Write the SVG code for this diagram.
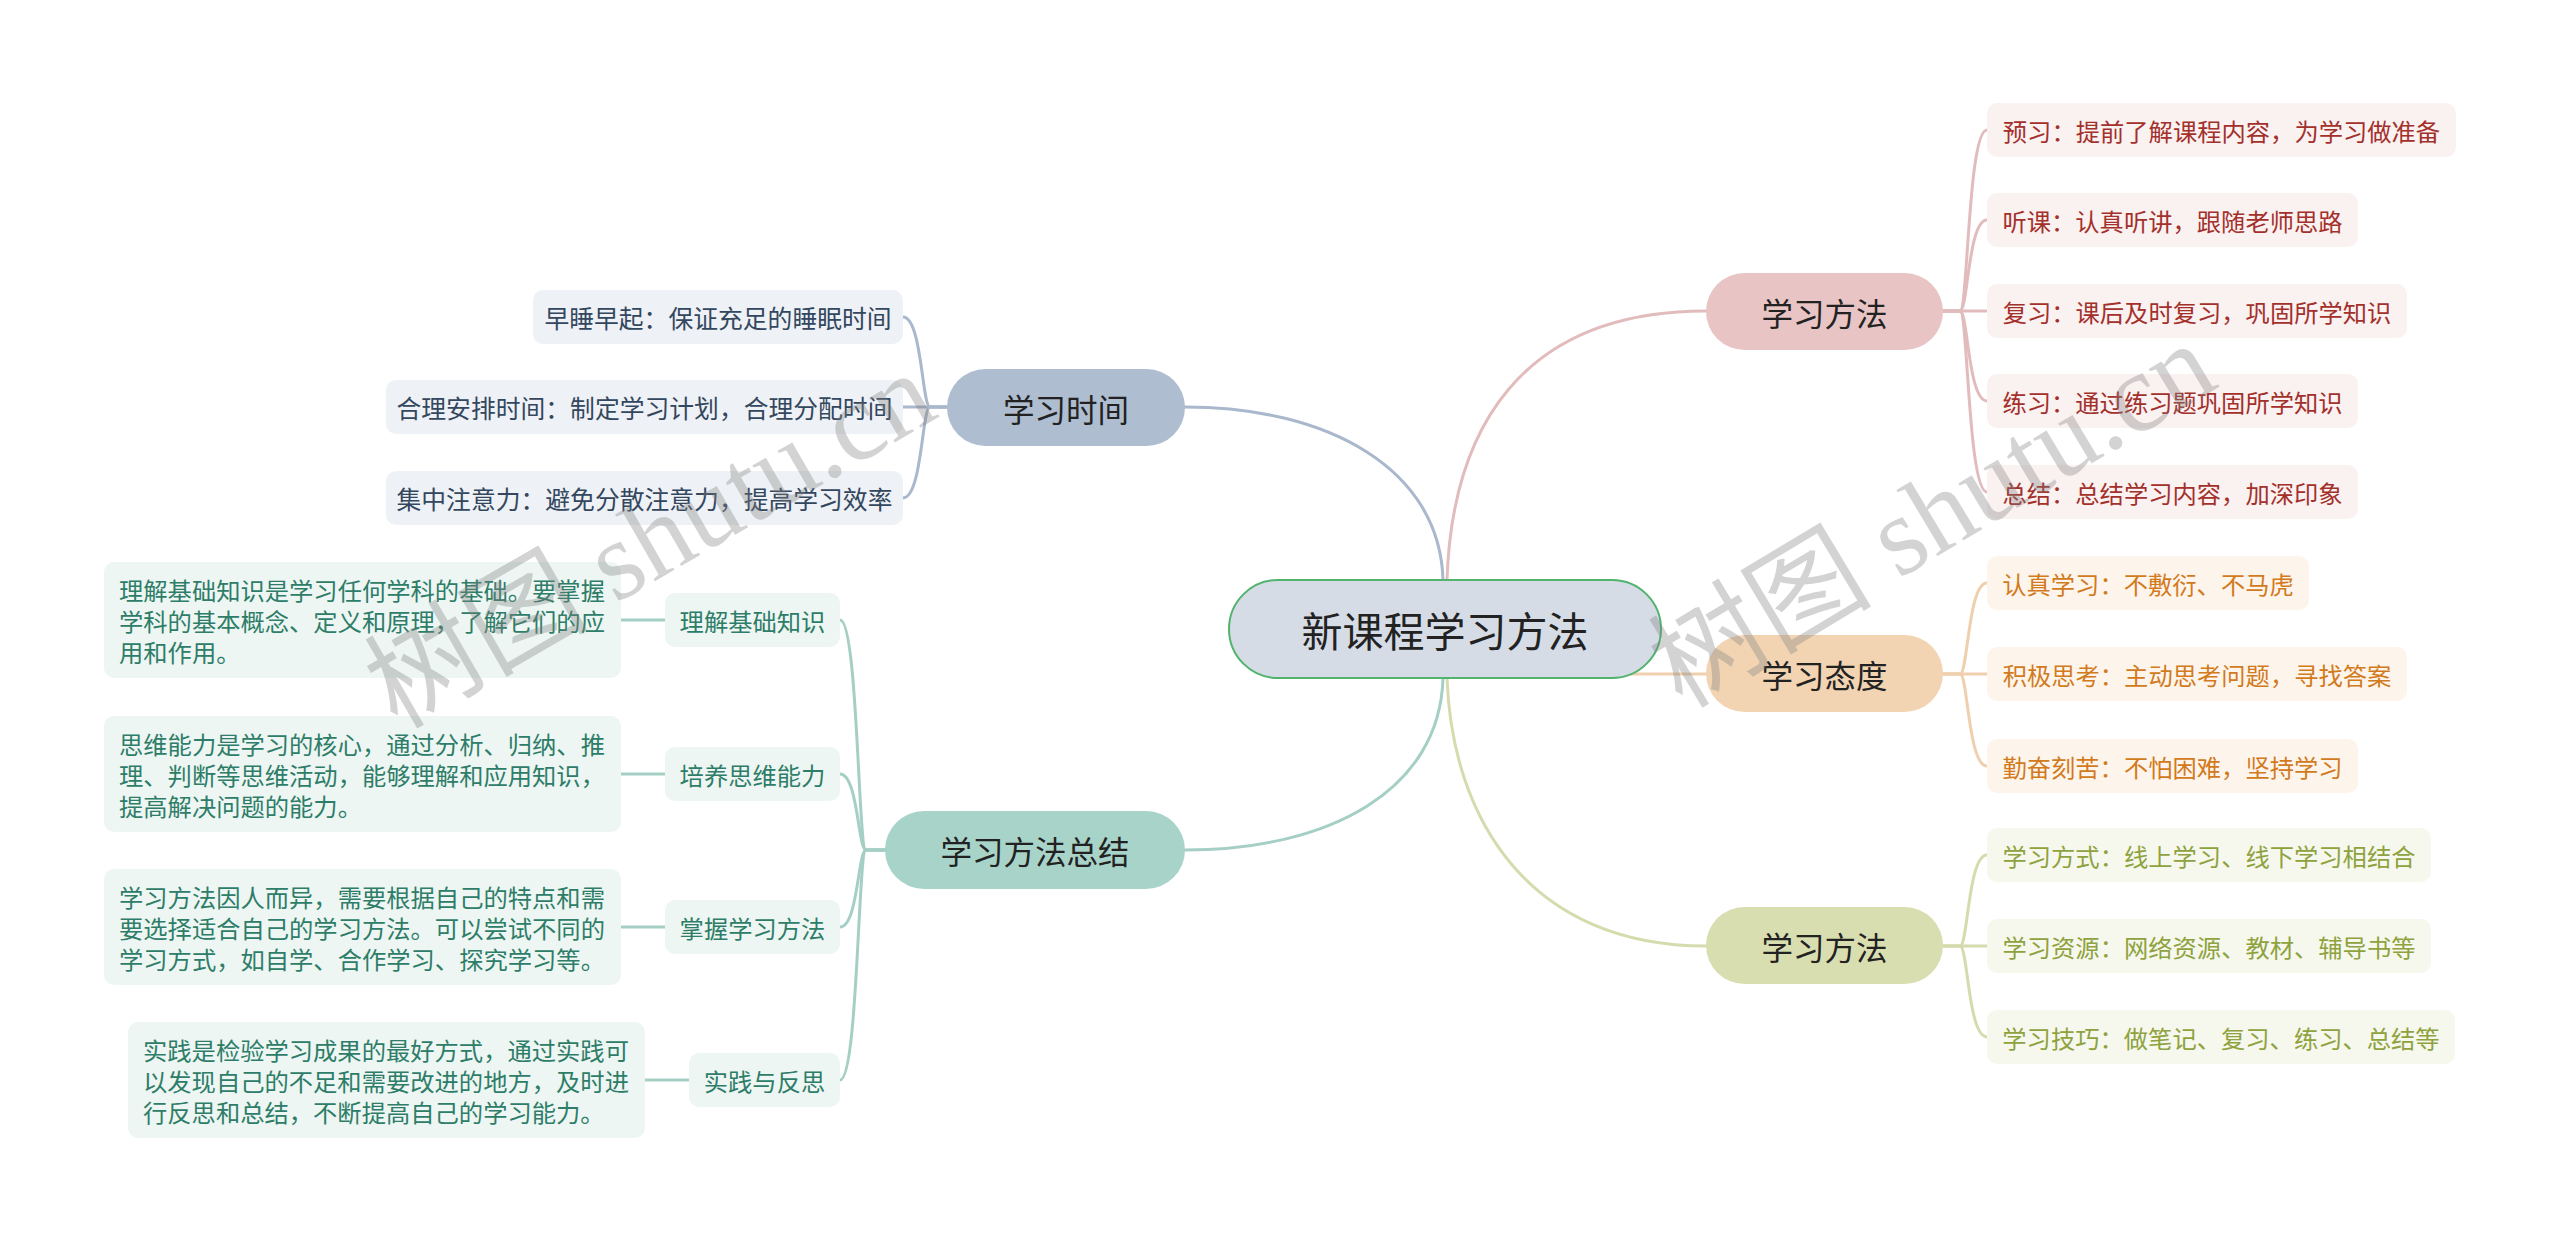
<svg xmlns="http://www.w3.org/2000/svg" width="2560" height="1242" viewBox="0 0 2560 1242">
<style>
text{font-family:"Noto Sans CJK SC","Noto Sans",sans-serif;dominant-baseline:central}
.mid{text-anchor:middle}
.main{font-size:31.5px;fill:#222}
.leaf{font-size:24.3px;text-anchor:middle}
.lleaf{font-size:24.8px;text-anchor:middle;fill:#33475e}
.para{font-size:24.3px;fill:#2e7d68}
.c{fill:none;stroke-width:3;stroke-linecap:round}
.pk{stroke:#e2bcbc}.og{stroke:#efcfad}.gr{stroke:#d6dbae}.bl{stroke:#a9b8cc}.tl{stroke:#a5cfc5}
.bpk{fill:#faf1f1}.bog{fill:#fdf5ec}.bgr{fill:#f6f8ed}.bbl{fill:#eef1f5}.btl{fill:#edf6f3}
.tpk{fill:#a3302b}.tog{fill:#d27a1c}.tgr{fill:#8ea23e}.ttl{fill:#2e7d68}
.wm{font-family:"Liberation Serif","Noto Sans CJK SC",serif;font-size:112px;fill:#808080;opacity:0.34;text-anchor:middle}
</style>
<rect width="2560" height="1242" fill="#ffffff"/>
<g id="connectors">
<path class="c pk" d="M1447,580 C1452,430 1520,311 1706,311"/>
<path class="c og" d="M1445,674 L1706,674"/>
<path class="c gr" d="M1447,678 C1452,820 1530,946 1706,946"/>
<path class="c bl" d="M1443,580 C1440,470 1330,407 1185,407"/>
<path class="c tl" d="M1443,678 C1440,790 1330,850 1185,850"/>
<path class="c pk" d="M1943,311 L1960,311 C1968,311 1968,130 1987,130"/>
<path class="c pk" d="M1943,311 L1960,311 C1968,311 1968,220 1987,220"/>
<path class="c pk" d="M1943,311 L1987,311"/>
<path class="c pk" d="M1943,311 L1960,311 C1968,311 1968,401 1987,401"/>
<path class="c pk" d="M1943,311 L1960,311 C1968,311 1968,492 1987,492"/>
<path class="c og" d="M1943,674 L1960,674 C1968,674 1968,583 1987,583"/>
<path class="c og" d="M1943,674 L1987,674"/>
<path class="c og" d="M1943,674 L1960,674 C1968,674 1968,766 1987,766"/>
<path class="c gr" d="M1943,946 L1960,946 C1968,946 1968,855 1987,855"/>
<path class="c gr" d="M1943,946 L1987,946"/>
<path class="c gr" d="M1943,946 L1960,946 C1968,946 1968,1037 1987,1037"/>
<path class="c bl" d="M947,407 L930,407 C922,407 922,317 903,317"/>
<path class="c bl" d="M947,407 L903,407"/>
<path class="c bl" d="M947,407 L930,407 C922,407 922,498 903,498"/>
<path class="c tl" d="M885,850 L866,850 C858,850 858,620 840,620"/>
<path class="c tl" d="M885,850 L866,850 C858,850 858,774 840,774"/>
<path class="c tl" d="M885,850 L866,850 C858,850 858,927 840,927"/>
<path class="c tl" d="M885,850 L866,850 C858,850 858,1080 840,1080"/>
<path class="c tl" d="M621,620 L665,620"/>
<path class="c tl" d="M621,774 L665,774"/>
<path class="c tl" d="M621,927 L665,927"/>
<path class="c tl" d="M645,1080 L689,1080"/>
</g>
<g id="root">
<rect x="1229" y="580" width="432" height="98" rx="49" fill="#d5dce6" stroke="#52b36e" stroke-width="2"/>
<text class="mid" x="1445" y="629" font-size="41" fill="#222">新课程学习方法</text>
</g>
<g id="n-fangfa1">
<rect x="1706" y="273" width="237" height="77" rx="38.5" fill="#e8c4c4"/>
<text class="main mid" x="1824.5" y="311.5">学习方法</text>
</g>
<g id="n-taidu">
<rect x="1706" y="635" width="237" height="77" rx="38.5" fill="#f2d4b3"/>
<text class="main mid" x="1824.5" y="673.5">学习态度</text>
</g>
<g id="n-fangfa2">
<rect x="1706" y="907" width="237" height="77" rx="38.5" fill="#d9deb0"/>
<text class="main mid" x="1824.5" y="945.5">学习方法</text>
</g>
<g id="n-shijian">
<rect x="947" y="369" width="238" height="77" rx="38.5" fill="#aebdd0"/>
<text class="main mid" x="1066" y="407.5">学习时间</text>
</g>
<g id="n-zongjie">
<rect x="885" y="811" width="300" height="78" rx="39" fill="#a8d3c9"/>
<text class="main mid" x="1035" y="850">学习方法总结</text>
</g>
<g id="l-yuxi"><rect class="bpk" x="1987" y="103" width="469" height="54" rx="10"/><text class="leaf tpk" x="2221.5" y="130">预习：提前了解课程内容，为学习做准备</text></g>
<g id="l-tingke"><rect class="bpk" x="1987" y="193" width="371" height="54" rx="10"/><text class="leaf tpk" x="2172.5" y="220">听课：认真听讲，跟随老师思路</text></g>
<g id="l-fuxi"><rect class="bpk" x="1987" y="284" width="420" height="54" rx="10"/><text class="leaf tpk" x="2197" y="311">复习：课后及时复习，巩固所学知识</text></g>
<g id="l-lianxi"><rect class="bpk" x="1987" y="374" width="371" height="54" rx="10"/><text class="leaf tpk" x="2172.5" y="401">练习：通过练习题巩固所学知识</text></g>
<g id="l-zongjie"><rect class="bpk" x="1987" y="465" width="371" height="54" rx="10"/><text class="leaf tpk" x="2172.5" y="492">总结：总结学习内容，加深印象</text></g>
<g id="l-renzhen"><rect class="bog" x="1987" y="556" width="322" height="54" rx="10"/><text class="leaf tog" x="2148" y="583">认真学习：不敷衍、不马虎</text></g>
<g id="l-jiji"><rect class="bog" x="1987" y="647" width="420" height="54" rx="10"/><text class="leaf tog" x="2197" y="674">积极思考：主动思考问题，寻找答案</text></g>
<g id="l-qinfen"><rect class="bog" x="1987" y="739" width="371" height="54" rx="10"/><text class="leaf tog" x="2172.5" y="766">勤奋刻苦：不怕困难，坚持学习</text></g>
<g id="l-fangshi"><rect class="bgr" x="1987" y="828" width="444" height="54" rx="10"/><text class="leaf tgr" x="2209" y="855">学习方式：线上学习、线下学习相结合</text></g>
<g id="l-ziyuan"><rect class="bgr" x="1987" y="919" width="444" height="54" rx="10"/><text class="leaf tgr" x="2209" y="946">学习资源：网络资源、教材、辅导书等</text></g>
<g id="l-jiqiao"><rect class="bgr" x="1987" y="1010" width="468" height="54" rx="10"/><text class="leaf tgr" x="2221" y="1037">学习技巧：做笔记、复习、练习、总结等</text></g>
<g id="l-zaoshui"><rect class="bbl" x="533" y="290" width="370" height="54" rx="10"/><text class="lleaf" x="718" y="317">早睡早起：保证充足的睡眠时间</text></g>
<g id="l-heli"><rect class="bbl" x="386" y="380" width="517" height="54" rx="10"/><text class="lleaf" x="644.5" y="407">合理安排时间：制定学习计划，合理分配时间</text></g>
<g id="l-jizhong"><rect class="bbl" x="386" y="471" width="517" height="54" rx="10"/><text class="lleaf" x="644.5" y="498">集中注意力：避免分散注意力，提高学习效率</text></g>
<g id="s-lijie"><rect class="btl" x="665" y="593" width="175" height="54" rx="10"/><text class="leaf ttl" x="752.5" y="620">理解基础知识</text></g>
<g id="s-peiyang"><rect class="btl" x="665" y="747" width="175" height="54" rx="10"/><text class="leaf ttl" x="752.5" y="774">培养思维能力</text></g>
<g id="s-zhangwo"><rect class="btl" x="665" y="900" width="175" height="54" rx="10"/><text class="leaf ttl" x="752.5" y="927">掌握学习方法</text></g>
<g id="s-shijian"><rect class="btl" x="689" y="1053" width="151" height="54" rx="10"/><text class="leaf ttl" x="764.5" y="1080">实践与反思</text></g>
<g id="p-lijie"><rect class="btl" x="104" y="562" width="517" height="116" rx="10"/>
<text class="para" x="119" y="589">理解基础知识是学习任何学科的基础。要掌握</text>
<text class="para" x="119" y="620">学科的基本概念、定义和原理，了解它们的应</text>
<text class="para" x="119" y="651">用和作用。</text></g>
<g id="p-peiyang"><rect class="btl" x="104" y="716" width="517" height="116" rx="10"/>
<text class="para" x="119" y="743">思维能力是学习的核心，通过分析、归纳、推</text>
<text class="para" x="119" y="774">理、判断等思维活动，能够理解和应用知识，</text>
<text class="para" x="119" y="805">提高解决问题的能力。</text></g>
<g id="p-zhangwo"><rect class="btl" x="104" y="869" width="517" height="116" rx="10"/>
<text class="para" x="119" y="896">学习方法因人而异，需要根据自己的特点和需</text>
<text class="para" x="119" y="927">要选择适合自己的学习方法。可以尝试不同的</text>
<text class="para" x="119" y="958">学习方式，如自学、合作学习、探究学习等。</text></g>
<g id="p-shijian"><rect class="btl" x="128" y="1022" width="517" height="116" rx="10"/>
<text class="para" x="143" y="1049">实践是检验学习成果的最好方式，通过实践可</text>
<text class="para" x="143" y="1080">以发现自己的不足和需要改进的地方，及时进</text>
<text class="para" x="143" y="1111">行反思和总结，不断提高自己的学习能力。</text></g>
<g id="watermark">
<text class="wm" transform="translate(650,540) rotate(-30)">树图 shutu.cn</text>
<text class="wm" transform="translate(1932,515) rotate(-31)">树图 shutu.cn</text>
</g>
</svg>
